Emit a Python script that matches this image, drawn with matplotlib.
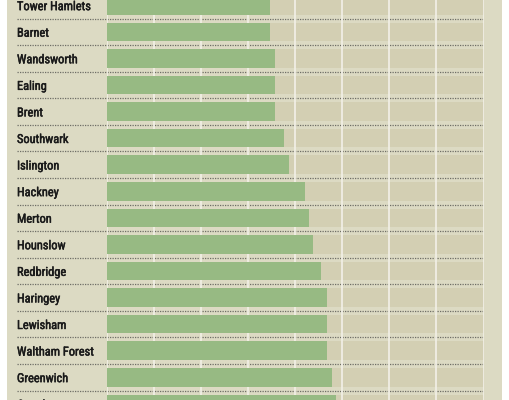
import matplotlib
matplotlib.use('Agg')
from matplotlib import pyplot as plt
from matplotlib import patheffects
from matplotlib.transforms import blended_transform_factory

boroughs = ['Tower Hamlets', 'Barnet', 'Wandsworth', 'Ealing', 'Brent',
            'Southwark', 'Islington', 'Hackney', 'Merton', 'Hounslow',
            'Redbridge', 'Haringey', 'Lewisham', 'Waltham Forest',
            'Greenwich', 'Croydon']
values = [17.3, 17.3, 17.9, 17.9, 17.9, 18.85, 19.4, 21.0, 21.5, 21.9,
          22.8, 23.4, 23.35, 23.4, 23.95, 24.35]
grid_ticks = [0, 5, 10, 15, 20, 25, 30, 35, 40]
x_max = 40

W, H = 510, 400
light_bg = '#dcdac3'
dark_bg = '#d3cfb3'
bar_green = '#97ba83'
grid_white = '#f0eee4'

plt.rcParams['font.family'] = ['Liberation Sans Narrow', 'Roboto Condensed', 'DejaVu Sans']

fig = plt.figure(figsize=(W / 100, H / 100), dpi=100, facecolor='white')

# light beige panel behind everything
bg = fig.add_axes([7 / W, 0, (502 - 7) / W, 1], zorder=0)
bg.set_axis_off()
bg.add_artist(plt.Rectangle((0, 0), 1, 1, transform=bg.transAxes,
                            facecolor=light_bg, edgecolor='none'))

left, right = 106.7, 483.5
ax = fig.add_axes([left / W, 0, (right - left) / W, 1], zorder=1)
ax.set_facecolor('none')

row_h = 26.57
top_c = 5.3
ax.set_xlim(0, x_max)
ax.set_ylim((H - top_c) / row_h, -top_c / row_h)

ys = list(range(len(boroughs)))
bh = 18.5 / row_h
ax.barh(ys, [x_max] * len(ys), height=bh, color=dark_bg, zorder=1)

# dotted separators
tr = blended_transform_factory(fig.transFigure, ax.transData)
for i in range(len(boroughs)):
    ax.plot([17 / W, right / W], [i + 0.5, i + 0.5], transform=tr, color='#6e6e66',
            lw=0.9, linestyle=(0, (1, 1)), clip_on=False, zorder=2)

for g in grid_ticks:
    ax.axvline(g, color=grid_white, lw=1.3, zorder=3)

ax.barh(ys, values, height=bh, color=bar_green, zorder=4)

thick = [patheffects.withStroke(linewidth=0.35, foreground='#1a1a1a')]
for i, name in enumerate(boroughs):
    ax.text(17 / W, i + 0.05, name, transform=tr, ha='left', va='center',
            fontsize=8.9, color='#1a1a1a', path_effects=thick)

for s in ax.spines.values():
    s.set_visible(False)
ax.set_xticks([])
ax.set_yticks([])

fig.savefig('out.png', dpi=100, facecolor='white')
plt.close(fig)
